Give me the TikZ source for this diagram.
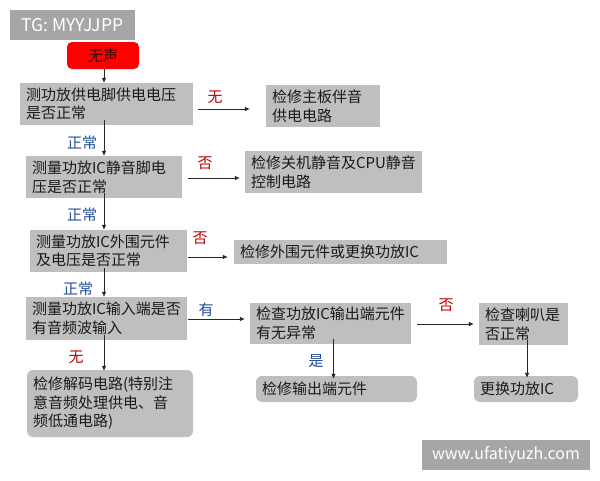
\documentclass[tikz,border=0pt]{standalone}
\usepackage{fontspec}
\setmainfont{Noto Sans CJK SC}
\usetikzlibrary{arrows.meta}
\definecolor{boxgray}{HTML}{BFBFBF}
\definecolor{tggray}{HTML}{A6A6A6}
\definecolor{lblue}{HTML}{1F4E9A}
\definecolor{lred}{HTML}{C00000}
\definecolor{txt}{HTML}{1A1A1A}
\tikzset{
  gbox/.style={fill=boxgray, text=txt, font=\fontsize{15}{18.5}\selectfont, align=left, inner xsep=6pt, inner ysep=0pt, anchor=center},
  rbox/.style={gbox, rounded corners=6pt},
  arr/.style={-{Latex[length=5pt,width=4.5pt]}, line width=0.7pt, draw=black!85},
  lbl/.style={font=\fontsize{15}{17}\selectfont, inner sep=0pt},
  yes/.style={lbl, text=lblue},
  no/.style={lbl, text=lred},
}
\begin{document}
\begin{tikzpicture}[x=1pt,y=-1pt]
\useasboundingbox (0,0) rectangle (600,480);
% watermark boxes
\node[fill=tggray, text=white, minimum width=125pt, minimum height=30pt, inner sep=0pt, font=\fontsize{17.5}{20}\selectfont] (tg) at (72.5,25) {TG: MYYJJPP};
\node[fill=tggray, text=white, minimum width=168pt, minimum height=30pt, inner sep=0pt, font=\fontsize{16}{18}\selectfont] (wm) at (506,455) {www.ufatiyuzh.com};
% start
\node[fill=red, text=black!80!red, rounded corners=5pt, minimum width=72pt, minimum height=27pt, inner sep=0pt, font=\fontsize{15}{17}\selectfont] (red) at (103,55.5) {无声};
% boxes
\node[gbox, text width=161pt, minimum height=42pt] (b1) at (106.5,104) {测功放供电脚供电电压\\是否正常};
\node[gbox, text width=102pt, minimum height=42pt] (b2) at (323,106) {检修主板伴音\\供电电路};
\node[gbox, text width=144pt, minimum height=42pt] (b3) at (104,177) {测量功放IC静音脚电\\压是否正常};
\node[gbox, text width=165pt, minimum height=42pt] (b4) at (333.5,172) {检修关机静音及CPU静音\\控制电路};
\node[gbox, text width=145pt, minimum height=42pt] (b5) at (108.5,251) {测量功放IC外围元件\\及电压是否正常};
\node[gbox, text width=201pt, minimum height=24pt] (b6) at (340.5,252) {检修外围元件或更换功放IC};
\node[gbox, text width=149pt, minimum height=43pt] (b7) at (106.5,318.5) {测量功放IC输入端是否\\有音频波输入};
\node[gbox, text width=149pt, minimum height=41pt] (b8) at (330.5,323.5) {检查功放IC输出端元件\\有无异常};
\node[gbox, text width=77pt, minimum height=42pt] (b9) at (523.5,324) {检查喇叭是\\否正常};
\node[rbox, text width=149pt, minimum height=26pt] (b10) at (336.5,389) {检修输出端元件};
\node[rbox, text width=92pt, minimum height=26pt] (b11) at (526,389) {更换功放IC};
\node[rbox, text width=154pt, minimum height=67pt] (b12) at (110,403.5) {检修解码电路(特别注\\意音频处理供电、音\\频低通电路)};
% vertical connectors
\draw[arr] ([xshift=1pt]red.south) -- ([xshift=1pt]red.south |- b1.north);
\draw[arr] ([xshift=-2.5pt,yshift=5pt]b1.south) -- ([xshift=-2.5pt]b1.south |- b3.north);
\draw[arr] ([yshift=5pt]b3.south) -- (b3.south |- b5.north);
\draw[arr] ([xshift=-4.5pt,yshift=4pt]b5.south) -- ([xshift=-4.5pt]b5.south |- b7.north);
\draw[arr] ([xshift=-2.5pt,yshift=5pt]b7.south) -- ([xshift=-2.5pt,yshift=-1pt]b7.south |- b12.north);
\draw[arr] ([xshift=3pt,yshift=5pt]b8.south) -- ([xshift=3pt,yshift=-3pt]b8.south |- b10.north);
\draw[arr] ([xshift=3.5pt,yshift=5pt]b9.south) -- ([xshift=3.5pt,yshift=-2pt]b9.south |- b11.north);
% horizontal connectors
\draw[arr] ([shift={(5,5)}]b1.east) -- ([shift={(-16,3)}]b2.west);
\draw[arr] ([shift={(6,1)}]b3.east) -- ([shift={(-5,6)}]b4.west);
\draw[arr] ([shift={(1,6)}]b5.east) -- ([shift={(-6,5)}]b6.west);
\draw[arr] ([shift={(1,0.5)}]b7.east) -- ([shift={(-5,-4.5)}]b8.west);
\draw[arr] ([shift={(6,0.5)}]b8.east) -- ([shift={(-5,0)}]b9.west);
% labels
\node[no]  (l1) at (215,97)  {无};
\node[yes] (l2) at (82,143)  {正常};
\node[no]  (l3) at (205,163) {否};
\node[yes] (l4) at (82,215)  {正常};
\node[no]  (l5) at (200,238) {否};
\node[yes] (l6) at (78,289)  {正常};
\node[yes] (l7) at (206,310) {有};
\node[no]  (l8) at (446,305) {否};
\node[yes] (l9) at (316,361) {是};
\node[no]  (l10) at (76,357) {无};
\end{tikzpicture}
\end{document}
